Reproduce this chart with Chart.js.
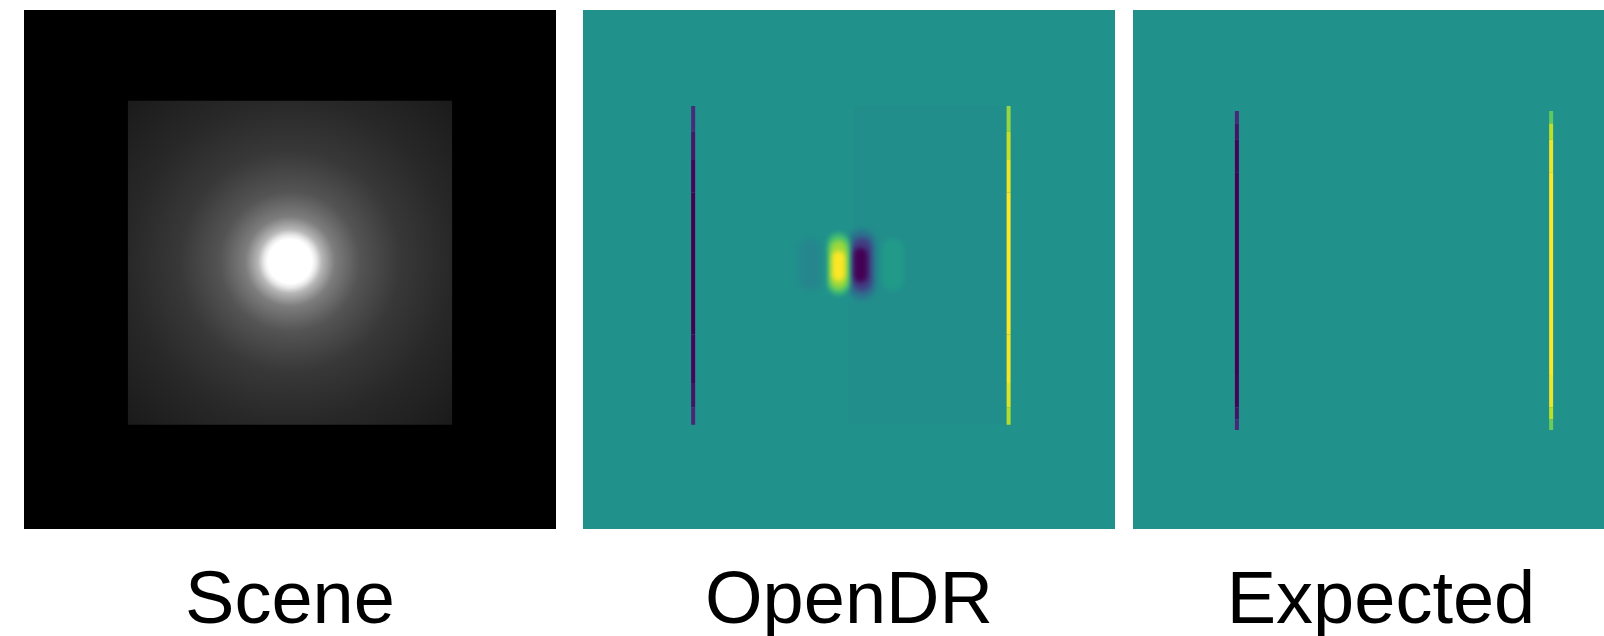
<!DOCTYPE html>
<html>
<head>
<meta charset="utf-8">
<script src="https://cdn.jsdelivr.net/npm/chart.js@4.4.1/dist/chart.umd.min.js"></script>
<style>
  html, body { margin: 0; background: #fff; width: 1604px; height: 636px; overflow: hidden; position: relative; }
  canvas { position: absolute; top: 10px; }
</style>
</head>
<body>
<canvas id="scene" width="532" height="630" style="left:24px"></canvas>
<canvas id="opendr" width="532" height="630" style="left:583px"></canvas>
<canvas id="expected" width="496" height="630" style="left:1133px"></canvas>
<script>
// every panel shows the same 128 x 128 pixel image
const GRID = 128

// Scene: the lit square and how bright it is at a distance from the light spot
const sceneSquareX = [25, 103]
const sceneSquareY = [22.4, 102.3]
const spotCenter = [64, 62]
const spotRadius = [0, 5.3, 6.3, 7.7, 10.8, 16.8, 26.5, 38.7, 55.4]
const spotLevel = [255, 255, 232, 182, 125, 84, 56, 40, 26]

// OpenDR gradient, colour value 0..1 (0.5 = zero gradient)
const opendrEdgeY = [23.7, 30, 37, 45, 80, 92, 98, 102.3]
const opendrLeftX = 26.5
const opendrLeftVal = [0.15, 0.1, 0.03, 0, 0, 0.03, 0.08, 0.15]
const opendrRightX = 102.4
const opendrRightVal = [0.8, 0.88, 0.95, 1, 1, 0.97, 0.92, 0.85]
const opendrShadeX = [65, 63.7, 102.4]
const opendrShadeY = [23.7, 72, 102.3]
const opendrShadeVal = 0.489
// blob at the light spot, outer layers first
const blobX = [54.6, 74.6, 67.1, 67.1, 66.8, 61.5, 61.5, 61.5]
const blobTop = [59, 59, 57.5, 58.5, 60.3, 57.8, 58.9, 61]
const blobBottom = [66.5, 66.5, 68, 67, 65.5, 67.5, 66.8, 65.3]
const blobVal = [0.46, 0.54, 0.38, 0.18, 0, 0.7, 0.85, 1]

// Expected gradient
const expectedEdgeY = [24.9, 28, 32, 40, 90, 98, 101, 103.6]
const expectedLeftX = 25
const expectedLeftVal = [0.15, 0.08, 0.02, 0, 0, 0.02, 0.08, 0.15]
const expectedRightX = 100.6
const expectedRightVal = [0.65, 0.85, 0.95, 1, 1, 0.95, 0.85, 0.7]

// styles
const blobLineWidth = [22, 22, 28, 20, 14, 22, 17, 13]
const VIRIDIS = ['#440154', '#482475', '#414487', '#355f8d', '#2a788e', '#21918c',
                 '#22a884', '#44bf70', '#7ad151', '#bddf26', '#fde725']
const FONT = { family: '"Liberation Sans", Arial, sans-serif', size: 74, weight: 'normal', lineHeight: 1 }

function hexRgb(h) {
    return [1, 3, 5].map(i => parseInt(h.slice(i, i + 2), 16))
}

function viridis(v) {
    const t = Math.min(Math.max(v, 0), 1) * (VIRIDIS.length - 1)
    const i = Math.min(Math.floor(t), VIRIDIS.length - 2)
    const a = hexRgb(VIRIDIS[i]), b = hexRgb(VIRIDIS[i + 1])
    const f = t - i
    const c = a.map((ch, k) => Math.round(ch + (b[k] - ch) * f))
    return `rgb(${c[0]},${c[1]},${c[2]})`
}

const panelBackground = {
    id: 'panelBackground',
    beforeDatasetsDraw(chart, args, opts) {
        const { ctx, chartArea: a } = chart
        ctx.save()
        ctx.fillStyle = opts.color
        ctx.fillRect(a.left, a.top, a.width, a.height)
        ctx.restore()
    }
}

// blur the blob layers a little so they run into each other
const softLayers = {
    id: 'softLayers',
    beforeDatasetDraw(chart, args) {
        if (!chart.data.datasets[args.index].soft) return
        chart.ctx.save()
        chart.ctx.filter = 'blur(2.5px)'
    },
    afterDatasetDraw(chart, args) {
        if (!chart.data.datasets[args.index].soft) return
        chart.ctx.restore()
    }
}

function edgeLine(x, ys, vals) {
    return {
        data: ys.map(y => ({ x, y })),
        showLine: true,
        pointRadius: 0,
        borderWidth: 4,
        borderCapStyle: 'butt',
        segment: {
            borderColor: c => viridis((vals[c.p0DataIndex] + vals[c.p1DataIndex]) / 2)
        },
        order: 0
    }
}

function panel(id, title, bg, datasets, xMax) {
    return new Chart(document.getElementById(id), {
        type: 'scatter',
        data: { datasets },
        options: {
            responsive: false,
            animation: false,
            events: [],
            layout: { padding: 0 },
            scales: {
                x: { type: 'linear', min: 0, max: xMax, display: false },
                y: { type: 'linear', min: 0, max: GRID, reverse: true, display: false }
            },
            plugins: {
                legend: { display: false },
                tooltip: { enabled: false },
                panelBackground: { color: bg },
                title: {
                    display: true,
                    text: title,
                    position: 'bottom',
                    color: '#000',
                    font: FONT,
                    padding: { top: 37, bottom: 0 }
                }
            }
        },
        plugins: [panelBackground, softLayers]
    })
}

// Scene
const [sx0, sx1] = sceneSquareX
const [sy0, sy1] = sceneSquareY
panel('scene', 'Scene', '#000', [{
    data: [{ x: sx0, y: sy0 }, { x: sx1, y: sy0 }, { x: sx1, y: sy1 }, { x: sx0, y: sy1 }, { x: sx0, y: sy0 }],
    showLine: true,
    pointRadius: 0,
    borderWidth: 0,
    fill: 'shape',
    backgroundColor: ctx => {
        const chart = ctx.chart
        if (!chart.chartArea) return '#222'
        const cx = chart.scales.x.getPixelForValue(spotCenter[0])
        const cy = chart.scales.y.getPixelForValue(spotCenter[1])
        const rMax = spotRadius[spotRadius.length - 1]
        const rPx = chart.scales.x.getPixelForValue(rMax) - chart.scales.x.getPixelForValue(0)
        const g = chart.ctx.createRadialGradient(cx, cy, 0, cx, cy, rPx)
        spotRadius.forEach((r, i) => {
            const l = spotLevel[i]
            g.addColorStop(r / rMax, `rgb(${l},${l},${l})`)
        })
        return g
    }
}], GRID)

// OpenDR
const [shX0, shX1, shX2] = opendrShadeX
const [shY0, shY1, shY2] = opendrShadeY
const opendrSets = [
    edgeLine(opendrLeftX, opendrEdgeY, opendrLeftVal),
    edgeLine(opendrRightX, opendrEdgeY, opendrRightVal),
    {
        data: [{ x: shX0, y: shY0 }, { x: shX2, y: shY0 }, { x: shX2, y: shY2 }, { x: shX1, y: shY2 },
               { x: shX1, y: shY1 }, { x: shX0, y: shY1 }, { x: shX0, y: shY0 }],
        showLine: true,
        pointRadius: 0,
        borderWidth: 0,
        fill: 'shape',
        backgroundColor: viridis(opendrShadeVal),
        order: 100
    }
]
blobX.forEach((x, i) => {
    opendrSets.push({
        data: [{ x, y: blobTop[i] }, { x, y: blobBottom[i] }],
        showLine: true,
        pointRadius: 0,
        borderWidth: blobLineWidth[i],
        borderCapStyle: 'round',
        borderColor: viridis(blobVal[i]),
        soft: true,
        order: 50 - i
    })
})
panel('opendr', 'OpenDR', viridis(0.5), opendrSets, GRID)

// Expected
panel('expected', 'Expected', viridis(0.5), [
    edgeLine(expectedLeftX, expectedEdgeY, expectedLeftVal),
    edgeLine(expectedRightX, expectedEdgeY, expectedRightVal)
], 496 / (532 / GRID))
</script>
</body>
</html>
